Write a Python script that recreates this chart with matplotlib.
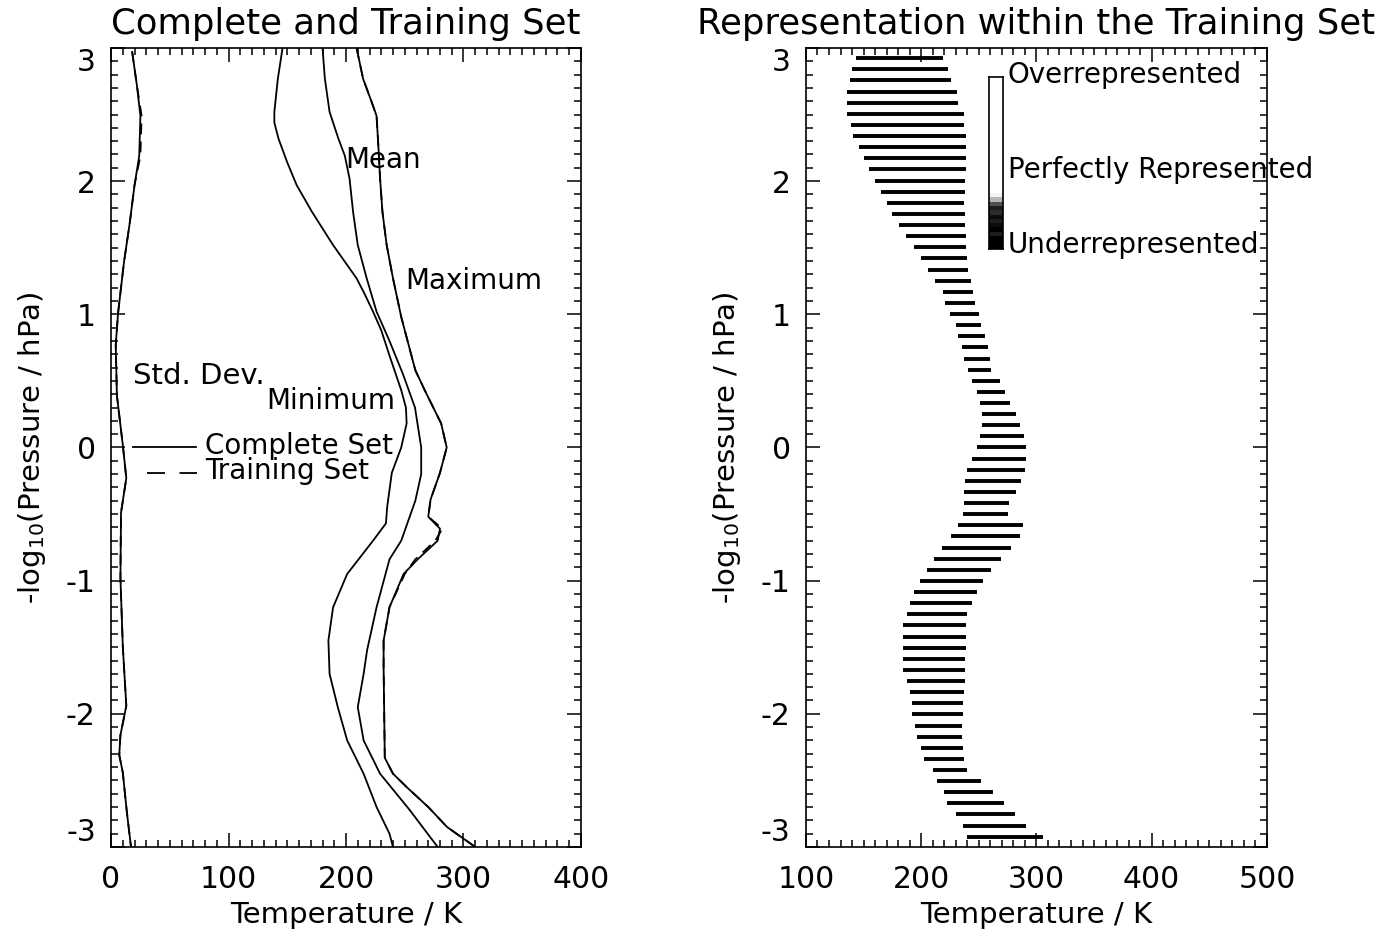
import numpy as np
import matplotlib.pyplot as plt
from matplotlib.ticker import MultipleLocator

plt.rcParams['font.family'] = ['DejaVu Sans']
plt.rcParams['font.size'] = 20
plt.rcParams['axes.unicode_minus'] = False

# ---- left panel: profiles, y = -log10(p / hPa), x = temperature (K)
min_p = [3.0, 2.77, 2.52, 2.44, 2.32, 2.14, 1.97, 1.77, 1.52, 1.27, 1.15, 1.02,
         0.88, 0.68, 0.43, 0.30, 0.18, 0.0, -0.19, -0.45, -0.57, -0.70, -0.95,
         -1.2, -1.45, -1.70, -1.95, -2.2, -2.45, -2.70, -2.90, -3.0]
min_t = [146, 142, 139, 139, 142.5, 150, 158, 171, 189, 209, 216, 223,
         230, 237.4, 247, 251, 251.6, 247, 239, 235, 234, 223, 201,
         189, 185, 186, 193, 201, 215, 226, 237, 240]

mean_p = [3.0, 2.77, 2.52, 2.32, 2.19, 2.02, 1.77, 1.52, 1.27, 1.02, 0.80, 0.55,
          0.30, 0.0, -0.2, -0.4, -0.70, -0.84, -1.2, -1.52, -1.70, -1.95, -2.2,
          -2.45, -2.72, -3.0]
mean_t = [180, 182, 186, 193.5, 199, 203, 206, 210, 217.6, 226, 237, 248.5,
          258.7, 264, 264, 259, 247, 237, 226, 218, 215, 210, 215,
          229, 254, 278]

max_p = [3.0, 2.77, 2.59, 2.49, 2.27, 2.02, 1.77, 1.52, 1.27, 0.98, 0.68, 0.58,
         0.43, 0.18, 0.0, -0.19, -0.39, -0.52, -0.61, -0.70, -0.84, -0.95, -1.2,
         -1.45, -1.65, -2.33, -2.45, -2.55, -2.70, -2.85, -3.0]
max_t = [209, 214.5, 222, 226, 227.5, 229, 231, 234.6, 240, 247, 256, 259,
         267, 281, 285.7, 280, 272, 270, 280, 278, 261, 249, 237,
         232, 232, 233, 240, 251.6, 270, 286, 310]
max_t_train = [209, 214.5, 222, 226, 227.5, 229, 231, 234.6, 240, 247, 256, 259,
               267, 281, 285.7, 280, 272, 270, 282, 276, 259, 250, 237,
               232, 232, 233, 240, 251.6, 270, 286, 310]

std_p = [2.97, 2.72, 2.49, 2.19, 1.97, 1.69, 1.39, 1.01, 0.77, 0.39, 0.02, -0.23,
         -0.49, -0.98, -1.49, -1.94, -2.16, -2.31, -2.44, -2.74, -3.0]
std_t = [18, 22, 25, 24, 20, 16, 11, 6, 4, 5, 10, 13,
         8.5, 8, 10, 13, 8, 7, 10, 13.5, 17]
std_t_train = [18, 22, 26, 25, 20, 16, 11, 6, 4, 5, 10, 13,
               8.5, 8, 10, 13, 8, 7, 10, 13.5, 17]

# ---- right panel: representation bars per level
bar_p = [2.923, 2.839, 2.756, 2.672, 2.589, 2.505, 2.422, 2.338, 2.255, 2.171,
         2.088, 2.004, 1.921, 1.837, 1.754, 1.670, 1.587, 1.503, 1.420, 1.336,
         1.253, 1.169, 1.086, 1.002, 0.919, 0.835, 0.752, 0.668, 0.585, 0.501,
         0.418, 0.334, 0.251, 0.167, 0.084, 0.0, -0.084, -0.167, -0.251, -0.334,
         -0.418, -0.501, -0.585, -0.668, -0.752, -0.835, -0.919, -1.002, -1.086,
         -1.169, -1.253, -1.336, -1.420, -1.503, -1.587, -1.670, -1.754, -1.837,
         -1.921, -2.004, -2.088, -2.171, -2.255, -2.338, -2.422, -2.505, -2.589,
         -2.672, -2.756, -2.839, -2.923]
bar_lo = [143, 140, 138, 136, 136, 136, 139, 141, 146, 150, 155, 160, 165, 170,
          175, 181, 187, 194, 200, 206, 212, 219, 221, 225, 230, 232, 235, 237,
          241, 244, 248, 251, 253, 253, 251, 248, 244, 240, 238, 237, 237, 236,
          232, 226, 218, 211, 205, 199, 194, 190, 188, 184, 184, 184, 184, 184,
          188, 190, 192, 192, 195, 196, 200, 202, 210, 214, 220, 222, 230, 236, 240]
bar_hi = [219, 223, 226, 231, 232, 237, 237, 239, 239, 239, 239, 238, 238, 237,
          238, 238, 239, 239, 240, 241, 243, 245, 247, 250, 252, 255, 258, 260,
          261, 268, 273, 277, 282, 286, 289, 291, 291, 290, 287, 282, 276, 275,
          288, 286, 278, 269, 261, 254, 248, 244, 240, 239, 239, 239, 238, 238,
          238, 237, 236, 236, 235, 235, 236, 237, 240, 252, 262, 272, 281, 291, 306]

# colour key shading, top (over) to bottom (under)
key_shade = [0] * 27 + [0.1, 0.4, 0.75, 0.9, 0.85, 0.95, 0.9, 0.95, 1, 0.9, 1, 1, 1]

fig = plt.figure(figsize=(13.81, 9.33), dpi=100)
ax1 = fig.add_axes([0.0804, 0.0922, 0.3403, 0.8564])
ax2 = fig.add_axes([0.5836, 0.0922, 0.3338, 0.8564])


def idl_axes(ax, x0, x1):
    ax.set_xlim(x0, x1)
    ax.set_ylim(-3, 3)
    ax.set_xticks(np.arange(x0, x1 + 1, 100))
    ax.set_yticks([-3, -2, -1, 0, 1, 2, 3])
    ax.xaxis.set_minor_locator(MultipleLocator(10))
    ax.yaxis.set_minor_locator(MultipleLocator(0.1))
    ax.tick_params(which='both', direction='in', top=True, right=True, width=1.1,
                   labelsize=21.5)
    ax.tick_params(which='major', length=10)
    ax.tick_params(which='minor', length=5)
    ax.tick_params(axis='x', pad=13)
    ax.tick_params(axis='y', pad=11)
    for s in ax.spines.values():
        s.set_linewidth(1.2)
    # end labels sit inside the axis range, as in the original
    labs = ax.get_yticklabels()
    labs[0].set_va('bottom')
    labs[-1].set_va('top')
    ax.set_xlabel('Temperature / K', fontsize=21, labelpad=5)
    ax.set_ylabel('-log$_{10}$(Pressure / hPa)', fontsize=21, labelpad=13)


idl_axes(ax1, 0, 400)
idl_axes(ax2, 100, 500)

dash = (0, (6, 4))
ax1.plot(min_t, min_p, 'k-', lw=1.3)
ax1.plot(mean_t, mean_p, 'k-', lw=1.3)
ax1.plot(max_t, max_p, 'k-', lw=1.3)
ax1.plot(max_t_train, max_p, color='k', ls=dash, lw=1.3)
ax1.plot(std_t, std_p, 'k-', lw=1.3)
ax1.plot(std_t_train, std_p, color='k', ls=dash, lw=1.3)

ax1.text(199, 2.155, 'Mean', va='center')
ax1.text(250, 1.25, 'Maximum', va='center')
ax1.text(19, 0.54, 'Std. Dev.', va='center', fontsize=21)
ax1.text(132, 0.35, 'Minimum', va='center')

# legend drawn by hand in axes fraction
ax1.plot([0.047, 0.180], [0.5, 0.5], 'k-', lw=1.3, transform=ax1.transAxes)
ax1.plot([0.077, 0.183], [0.468, 0.468], color='k', ls=(0, (10, 8)), lw=1.3,
         transform=ax1.transAxes)
ax1.text(0.2, 0.502, 'Complete Set', va='center', transform=ax1.transAxes)
ax1.text(0.2, 0.47, 'Training Set', va='center', transform=ax1.transAxes)
ax1.set_title('Complete and Training Set', fontsize=25.5, pad=10)

ax2.hlines(bar_p, bar_lo, bar_hi, colors='k', lw=2.8)
ax2.set_title('Representation within the Training Set', fontsize=25.5, pad=10)

kax = fig.add_axes([0.7162, 0.733, 0.0101, 0.1843])
kax.imshow(np.array(key_shade)[:, None], cmap='Greys', vmin=0, vmax=1,
           aspect='auto', interpolation='nearest')
kax.set_xticks([])
kax.set_yticks([])
for s in kax.spines.values():
    s.set_linewidth(1.2)

ax2.text(0.438, 0.966, 'Overrepresented', va='center', transform=ax2.transAxes)
ax2.text(0.438, 0.847, 'Perfectly Represented', va='center', transform=ax2.transAxes)
ax2.text(0.438, 0.753, 'Underrepresented', va='center', transform=ax2.transAxes)

fig.savefig('out.png', dpi=100)
